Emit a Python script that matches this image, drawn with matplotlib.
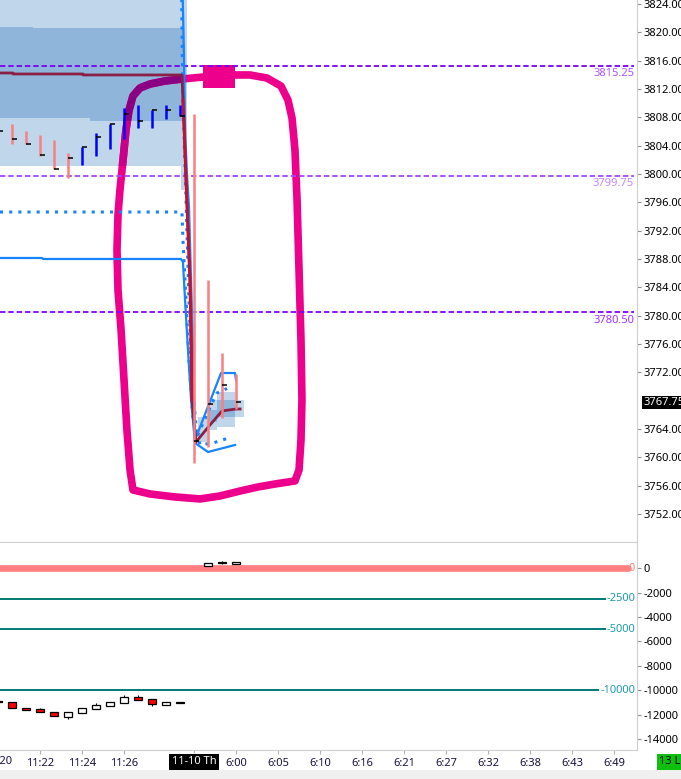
import matplotlib
matplotlib.use("Agg")
import matplotlib.pyplot as plt
from matplotlib.patches import Rectangle
from matplotlib.transforms import blended_transform_factory

plt.rcParams['font.family'] = ['Noto Sans', 'DejaVu Sans']

# ---- price bars (bar index, high, low, close) ----
bar_idx = [-1, 0, 1, 2, 3, 4, 5, 6, 7, 8, 9, 10, 11, 12, 13, 14, 15, 16]
bar_high = [3807.00, 3807.00, 3806.00, 3805.50, 3804.75, 3803.00, 3803.75, 3805.75, 3807.00,
            3809.25, 3809.75, 3809.00, 3809.75, 3809.75, 3808.50, 3785.00, 3774.75, 3771.75]
bar_low = [3805.00, 3804.25, 3804.25, 3802.50, 3800.75, 3799.50, 3801.25, 3802.50, 3803.50,
           3805.00, 3806.50, 3806.50, 3807.75, 3808.25, 3759.25, 3761.50, 3765.50, 3766.75]
bar_close = [3806.00, 3805.00, 3804.25, 3802.75, 3800.75, 3802.25, 3803.75, 3805.25, 3807.00,
             3808.50, 3807.50, 3809.00, 3809.00, 3808.25, 3762.25, 3767.50, 3770.25, 3767.75]
bar_up = [0, 0, 0, 0, 0, 0, 1, 1, 1, 1, 1, 1, 1, 1, 0, 0, 0, 0]
last_price = 3767.75

# ---- value area bands ----
band_light_x = [-0.857, 12.07, 12.5]
band_light_lo = [3801.13, 3797.74, 3797.74]
band_light_hi = [3830.0, 3830.0, 3830.0]
band_dark_x = [-0.857, 1.5, 5.57, 6.5, 12.3]
band_dark_lo = [3807.86, 3807.86, 3807.52, 3807.52, 3807.52]
band_dark_hi = [3820.75, 3820.61, 3820.61, 3820.61, 3820.61]
post_light_x = [13.29, 14.0, 14.64, 15.93, 16.57]
post_light_lo = [3762.16, 3763.86, 3764.28, 3765.69, 3765.69]
post_light_hi = [3765.69, 3768.09, 3769.22, 3768.09, 3768.09]
post_dark_x = [14.0, 14.64, 15.93]
post_dark_lo = [3764.99, 3765.69, 3765.69]
post_dark_hi = [3766.68, 3768.09, 3768.09]

# ---- band lines ----
upper_x = [12.18, 12.29, 12.36, 12.5, 12.64, 12.79, 12.93, 13.07, 14.93, 15.93, 16.0]
upper_y = [3825.98, 3816.09, 3806.21, 3799.86, 3795.34, 3785.03, 3775.15, 3762.44, 3771.9, 3771.9, 3770.92]
lower_x = [-0.857, 2.14, 2.21, 12.07, 12.21, 12.36, 12.57, 12.79, 13.07, 14.0, 15.93]
lower_y = [3788.14, 3788.14, 3788.0, 3788.0, 3787.57, 3782.21, 3775.15, 3768.09, 3762.02, 3760.75, 3761.74]
dot_up_x = [12.11, 12.21, 12.43, 12.64, 12.86, 13.21, 14.14, 14.64, 15.36]
dot_up_y = [3825.98, 3810.45, 3796.33, 3782.21, 3770.92, 3762.87, 3767.03, 3769.08, 3769.71]
dot_mid_x = [-0.857, 12.14, 12.21, 12.43, 12.64, 12.93, 13.43, 14.36, 15.71]
dot_mid_y = [3794.63, 3794.63, 3790.68, 3782.21, 3773.74, 3765.27, 3761.74, 3762.02, 3762.87]
vwap_x = [-0.857, 0.07, 0.07, 5.07, 5.07, 12.14, 12.21, 12.29, 12.43, 12.57, 12.71, 12.79, 12.86,
          13.14, 14.14, 15.0, 16.0, 16.29]
vwap_y = [3814.26, 3814.26, 3814.12, 3814.12, 3813.98, 3813.98, 3810.45, 3806.64, 3799.15, 3792.09,
          3785.03, 3776.56, 3768.09, 3762.16, 3764.56, 3766.54, 3766.82, 3766.82]

# ---- horizontal levels ----
levels = [3815.25, 3799.75, 3780.50]
level_colors = ['#7a00f2', '#a446ff', '#8000ff']
level_text_colors = ['#b050ff', '#c585ff', '#a530ff']

# ---- hand drawn loop (bar index, price) ----
loop_x = [13.64, 12.14, 10.93, 9.86, 9.14, 8.64, 8.36, 8.14, 7.93, 7.71, 7.57, 7.5, 7.57, 7.79, 8.0,
          8.21, 8.43, 8.64, 9.86, 11.64, 13.43, 14.86, 16.29, 17.57, 18.79, 20.21, 20.5, 20.64,
          20.71, 20.64, 20.5, 20.36, 20.21, 20.0, 19.71, 19.21, 18.21, 17.0, 15.93]
loop_y = [3813.69, 3813.41, 3813.13, 3812.71, 3812.14, 3811.01, 3809.03, 3806.21, 3801.97, 3797.74,
          3794.21, 3789.27, 3783.62, 3777.97, 3770.92, 3763.86, 3758.21, 3755.39, 3754.82, 3754.4,
          3754.12, 3754.54, 3755.24, 3755.81, 3756.23, 3756.66, 3758.21, 3762.44, 3768.09, 3776.56,
          3786.45, 3796.33, 3803.39, 3807.9, 3810.45, 3812.42, 3813.55, 3813.98, 3813.98]
loop_block = [13.64, 15.93, 3812.14, 3815.39]

# ---- lower panel candles ----
delta_idx = [-1, 0, 1, 2, 3, 4, 5, 6, 7, 8, 9, 10, 11, 12, 14, 15, 16]
delta_open = [-10900, -10940, -11480, -11560, -11810, -12170, -11840, -11520, -11270, -11020,
              -10560, -10740, -11190, -10970, 210, 410, 380]
delta_close = [-10950, -11480, -11600, -11810, -12140, -11810, -11480, -11210, -10990, -10530,
               -10780, -11150, -10990, -11020, 410, 490, 520]
delta_high = [-10900, -10940, -11480, -11460, -11810, -11810, -11480, -11070, -10990, -10370,
              -10390, -10740, -10990, -10940, 410, 570, 520]
delta_low = [-10950, -11480, -11600, -11810, -12140, -12360, -11840, -11520, -11270, -11020,
             -10780, -11290, -11190, -11040, 210, 350, 380]
osc_levels = [-2500, -5000, -10000]
osc_labels = ['-2500', '-5000', '-10000']

# ---- time axis ----
tick_idx = [2, 5, 8, 16, 19, 22, 25, 28, 31, 34, 37, 40, 43]
tick_lbl = ['11:22', '11:24', '11:26', '6:00', '6:05', '6:10', '6:16', '6:21', '6:27',
            '6:32', '6:38', '6:43', '6:49']
first_lbl = '11:20'
date_idx = 13
date_lbl = '11-10 Th'

W, H = 681, 779
fig = plt.figure(figsize=(W / 100, H / 100), dpi=100)
ax = fig.add_axes([0, 1 - 542 / H, 637 / W, 542 / H])
ax2 = fig.add_axes([0, 1 - 750 / H, 637 / W, 208 / H])

xmin, xmax = -0.857, 44.64
ax.set_xlim(xmin, xmax)
ax2.set_xlim(xmin, xmax)
ax.set_ylim(3748.04, 3824.565)
ax2.set_ylim(-14902, 2157)

# bands
ax.fill_between(band_light_x, band_light_lo, band_light_hi, step='post', color='#c0d6ea', lw=0, zorder=1)
ax.fill_between(band_dark_x, band_dark_lo, band_dark_hi, step='post', color='#8fb5db', lw=0, zorder=1)
ax.fill_between(post_light_x, post_light_lo, post_light_hi, step='post', color='#c0d6ea', lw=0, zorder=1)
ax.fill_between(post_dark_x, post_dark_lo, post_dark_hi, step='post', color='#8fb5db', lw=0, zorder=1)

# loop annotation (darker where it crosses the bands)
ax.plot(loop_x, loop_y, color='#ec008c', lw=5.5, solid_capstyle='round', solid_joinstyle='round', zorder=2)
ax.add_patch(Rectangle((loop_block[0], loop_block[2]), loop_block[1] - loop_block[0],
                       loop_block[3] - loop_block[2], color='#ec008c', lw=0, zorder=2))
clip_dark = Rectangle((band_dark_x[0], band_dark_lo[-1]), band_dark_x[-1] - band_dark_x[0],
                      band_dark_hi[0] - band_dark_lo[-1], transform=ax.transData)
clip_light = Rectangle((band_light_x[0], band_light_lo[0]), band_light_x[-1] - band_light_x[0],
                       band_dark_lo[-1] - band_light_lo[0], transform=ax.transData)
l1, = ax.plot(loop_x, loop_y, color='#8a0082', lw=5.5, solid_capstyle='round', solid_joinstyle='round', zorder=2.1)
l1.set_clip_path(clip_dark)
l2, = ax.plot(loop_x, loop_y, color='#c8008a', lw=5.5, solid_capstyle='round', solid_joinstyle='round', zorder=2.1)
l2.set_clip_path(clip_light)

# level lines
bt = blended_transform_factory(ax.transAxes, ax.transData)
for lv, c, tc in zip(levels, level_colors, level_text_colors):
    ax.axhline(lv, xmin=0, xmax=634 / 637, color=c, lw=1.3, ls=(0, (3, 1.6)), zorder=3)
    ax.annotate(f'{lv:.2f}', xy=(634 / 637, lv), xycoords=bt, xytext=(0, -8),
                textcoords='offset pixels', ha='right', va='center', color=tc, fontsize=8)

# band lines
ax.plot(lower_x, lower_y, color='#1683ff', lw=1.6, zorder=4)
ax.plot(upper_x, upper_y, color='#1683ff', lw=1.6, zorder=4)
ax.plot(dot_mid_x, dot_mid_y, color='#1683ff', lw=2.2, ls=(0, (1, 2)), zorder=4)
ax.plot(dot_up_x, dot_up_y, color='#1683ff', lw=2.2, ls=(0, (1, 2)), zorder=4)
ax.plot(vwap_x, vwap_y, color='#8b2046', lw=2, zorder=5)
ax.plot(vwap_x[6:13], vwap_y[6:13], color='#c8102e', lw=2, zorder=5)

# OHLC bars
for i, h, lo, c, up in zip(bar_idx, bar_high, bar_low, bar_close, bar_up):
    ax.vlines(i, lo, h, color='#0000ff' if up else '#f88080', lw=1.8, zorder=6)
    ax.hlines(c, i, i + 0.38, color='black', lw=1.1, zorder=6)

# last price tag
ax.annotate(f'{last_price:.2f}', xy=(1, last_price), xycoords=bt, xytext=(6, 0),
            textcoords='offset pixels', ha='left', va='center', color='white', fontsize=8,
            bbox=dict(boxstyle='square,pad=0.12', fc='black', ec='none'), annotation_clip=False)

# price axis
pticks = [p for p in range(3752, 3825, 4) if p != 3768]
ax.set_yticks(pticks)
ax.set_yticklabels([f'{p:.2f}' for p in pticks])
ax.yaxis.tick_right()
ax.tick_params(axis='y', direction='out', length=3, width=0.8, color='#909090', labelsize=8, pad=2)
ax.set_xticks([])
for s in ['left', 'top']:
    ax.spines[s].set_visible(False)
for s in ['right', 'bottom']:
    ax.spines[s].set_color('#cfcfcf')

# lower panel
ax2.axhline(0, xmin=0, xmax=628 / 637, color='#ff8080', lw=4.8, solid_capstyle='round', zorder=2)
bt2 = blended_transform_factory(ax2.transAxes, ax2.transData)
ax2.text(631.5 / 637, 0, '0', transform=bt2, ha='center', va='center', color='#ff8080', fontsize=8)
for lv, lab in zip(osc_levels, osc_labels):
    end = 598 if lv == -10000 else 605
    ax2.axhline(lv, xmin=0, xmax=end / 637, color='#007a74', lw=1.4, zorder=2)
    ax2.text(635 / 637, lv, lab, transform=bt2, ha='right', va='center', color='#1f9cad', fontsize=8)

for i, o, c, h, lo in zip(delta_idx, delta_open, delta_close, delta_high, delta_low):
    ax2.vlines(i, lo, h, color='black', lw=0.8, zorder=3)
    ax2.bar(i, abs(c - o), bottom=min(o, c), width=0.62,
            color='#ff0000' if c < o else 'white', edgecolor='black', lw=0.9, zorder=4)

oticks = list(range(0, -14001, -2000))
ax2.set_yticks(oticks)
ax2.set_yticklabels([str(v) for v in oticks])
ax2.yaxis.tick_right()
ax2.tick_params(axis='y', direction='out', length=3, width=0.8, color='#909090', labelsize=8, pad=2)
ax2.set_xticks(tick_idx)
ax2.set_xticklabels(tick_lbl)
ax2.tick_params(axis='x', direction='out', length=3, width=0.8, color='#b0b0b0',
                labelsize=8, labelcolor='#1a1040', pad=2.5)
ax2.spines['left'].set_visible(False)
for s in ['right', 'bottom', 'top']:
    ax2.spines[s].set_color('#cfcfcf')

bx = blended_transform_factory(ax2.transData, ax2.transAxes)
ax2.annotate(first_lbl, xy=(-1, 0), xycoords=bx, xytext=(0, -12), textcoords='offset pixels',
             ha='center', va='center', fontsize=8, color='#1a1040', annotation_clip=False)
ax2.annotate(date_lbl, xy=(date_idx, 0), xycoords=bx, xytext=(0, -12), textcoords='offset pixels',
             ha='center', va='center', fontsize=8, color='white', annotation_clip=False,
             bbox=dict(boxstyle='square,pad=0.2', fc='black', ec='none'))
ax2.vlines(date_idx, -0.015, 0, transform=bx, color='#b0b0b0', lw=0.8, clip_on=False)

# bottom strip and status box
fig.add_artist(Rectangle((0, 0), 1, 9 / H, transform=fig.transFigure, fc='#f0f0f0', ec='none'))
fig.add_artist(Rectangle((657 / W, 1 - 770 / H), 30 / W, 16 / H, transform=fig.transFigure,
                         fc='#0cc00c', ec='none'))
fig.text(659 / W, 1 - 762 / H, '13 L', ha='left', va='center', fontsize=8, color='black')

fig.savefig('out.png', dpi=100)
